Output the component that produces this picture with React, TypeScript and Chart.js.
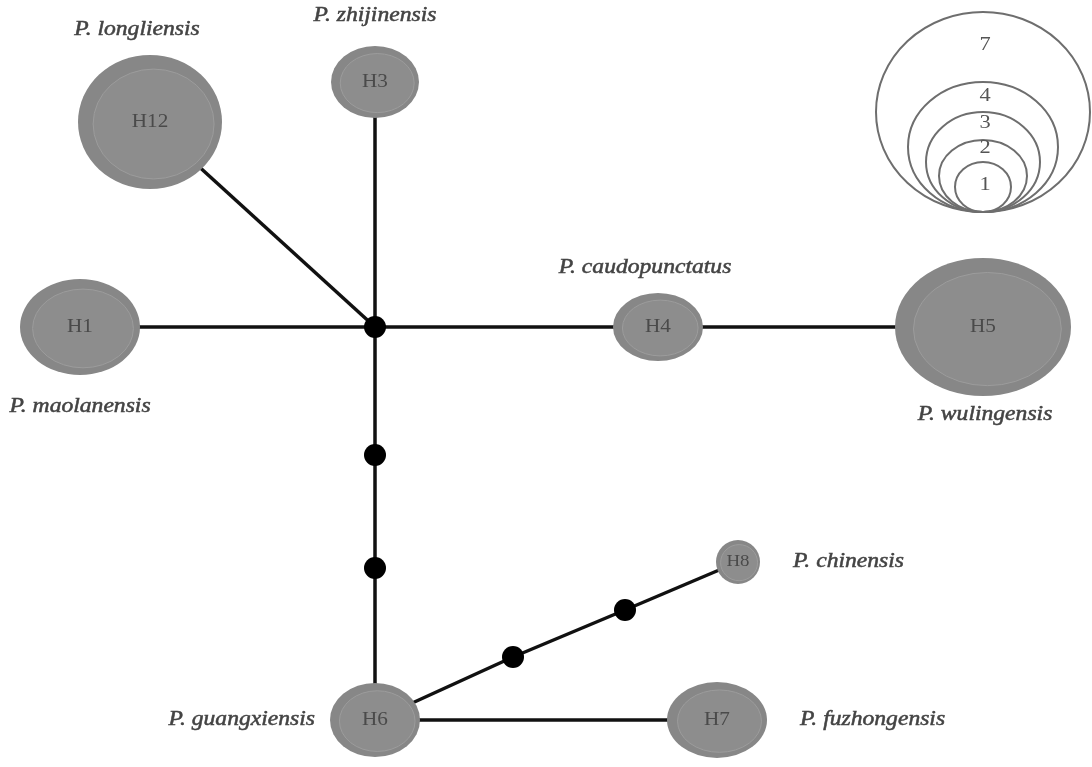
import React, { useEffect, useRef } from "react";
import { Chart, registerables } from "chart.js";

Chart.register(...registerables);

// Haplotype nodes
const nodeNames = ["H1", "H3", "H4", "H5", "H6", "H7", "H8", "H12"];
const nodeX = [80, 375, 658, 983, 375, 717, 738, 150];
const nodeY = [327, 82, 327, 327, 720, 720, 562, 122];
const nodeRX = [60, 44, 45, 88, 45, 50, 22, 72];
const nodeRY = [48, 36, 34, 69, 37, 38, 22, 67];

// Median vectors / mutation steps
const junctionX = [375, 375, 375, 513, 625];
const junctionY = [327, 455, 568, 657, 610];

// Edges between points (node names or junction ids J0..J4)
const edgeFrom = ["H12", "H3", "H1", "J0", "H4", "J0", "J1", "J2", "H6", "J3", "J4", "H6"];
const edgeTo = ["J0", "J0", "J0", "H4", "H5", "J1", "J2", "H6", "J3", "J4", "H8", "H7"];

// Species labels
const speciesNames = [
  "P. longliensis",
  "P. zhijinensis",
  "P. maolanensis",
  "P. caudopunctatus",
  "P. wulingensis",
  "P. chinensis",
  "P. guangxiensis",
  "P. fuzhongensis",
];
const speciesX = [137, 375, 80, 645, 985, 793, 315, 800];
const speciesY = [30, 16, 407, 268, 415, 562, 720, 720];
const speciesAlign = ["center", "center", "center", "center", "center", "left", "right", "left"];

// Size legend
const legendCounts = ["7", "4", "3", "2", "1"];
const legendRX = [107, 75, 57, 44, 28];
const legendRY = [100, 65, 50, 36, 25];
const legendCX = 983;
const legendBottom = 212;
const legendLabelY = [45, 96, 123, 148, 185];

const STRETCH = 1.18;

function pointOf(id: string): { x: number; y: number } {
  if (id.startsWith("J")) {
    const i = parseInt(id.slice(1), 10);
    return { x: junctionX[i], y: junctionY[i] };
  }
  const i = nodeNames.indexOf(id);
  return { x: nodeX[i], y: nodeY[i] };
}

function stretchedText(
  ctx: CanvasRenderingContext2D,
  text: string,
  x: number,
  y: number,
  align: CanvasTextAlign,
  strokeW = 0
) {
  ctx.save();
  ctx.translate(x, y);
  ctx.scale(STRETCH, 1);
  ctx.textAlign = align;
  ctx.fillText(text, 0, 0);
  if (strokeW > 0) {
    ctx.lineWidth = strokeW;
    ctx.strokeStyle = ctx.fillStyle as string;
    ctx.strokeText(text, 0, 0);
  }
  ctx.restore();
}

const networkPlugin = {
  id: "networkPlugin",
  afterDatasetsDraw(chart: any) {
    const ctx = chart.ctx as CanvasRenderingContext2D;
    const xs = chart.scales.x;
    const ys = chart.scales.y;
    const px = (v: number) => xs.getPixelForValue(v);
    const py = (v: number) => ys.getPixelForValue(v);
    const dx = (x: number, r: number) => Math.abs(px(x + r) - px(x));
    const dy = (y: number, r: number) => Math.abs(py(y + r) - py(y));

    ctx.save();
    // nodes
    for (let i = 0; i < nodeNames.length; i++) {
      const cx = px(nodeX[i]);
      const cy = py(nodeY[i]);
      const rx = dx(nodeX[i], nodeRX[i]);
      const ry = dy(nodeY[i], nodeRY[i]);
      ctx.beginPath();
      ctx.ellipse(cx, cy, rx, ry, 0, 0, Math.PI * 2);
      ctx.fillStyle = "#878787";
      ctx.fill();
      ctx.beginPath();
      ctx.ellipse(cx + rx * 0.05, cy + ry * 0.03, rx * 0.84, ry * 0.82, 0, 0, Math.PI * 2);
      ctx.fillStyle = "#8d8d8d";
      ctx.fill();
      ctx.lineWidth = 1;
      ctx.strokeStyle = "#9c9c9c";
      ctx.stroke();
      ctx.fillStyle = "#4a4a4a";
      ctx.font = `${nodeRY[i] < 25 ? 16 : 18}px "Liberation Serif", serif`;
      ctx.textBaseline = "middle";
      stretchedText(ctx, nodeNames[i], cx, cy, "center");
    }

    // species labels
    ctx.font = 'italic 20px "Liberation Serif", serif';
    ctx.fillStyle = "#444444";
    ctx.textBaseline = "middle";
    for (let i = 0; i < speciesNames.length; i++) {
      stretchedText(ctx, speciesNames[i], px(speciesX[i]), py(speciesY[i]), speciesAlign[i] as CanvasTextAlign, 0.5);
    }

    // size legend
    ctx.strokeStyle = "#6e6e6e";
    ctx.lineWidth = 2;
    for (let i = 0; i < legendCounts.length; i++) {
      const cyv = legendBottom - legendRY[i];
      ctx.beginPath();
      ctx.ellipse(px(legendCX), py(cyv), dx(legendCX, legendRX[i]), dy(cyv, legendRY[i]), 0, 0, Math.PI * 2);
      ctx.stroke();
    }
    ctx.font = '19px "Liberation Serif", serif';
    ctx.fillStyle = "#555555";
    ctx.textBaseline = "middle";
    for (let i = 0; i < legendCounts.length; i++) {
      stretchedText(ctx, legendCounts[i], px(legendCX + 2), py(legendLabelY[i]), "center");
    }
    ctx.restore();
  },
};

export default function App() {
  const canvasRef = useRef<HTMLCanvasElement | null>(null);

  useEffect(() => {
    if (!canvasRef.current) return;
    const datasets: any[] = edgeFrom.map((f, i) => {
      const a = pointOf(f);
      const b = pointOf(edgeTo[i]);
      return {
        type: "scatter",
        label: `${f}-${edgeTo[i]}`,
        data: [a, b],
        showLine: true,
        borderColor: "#111111",
        borderWidth: 3.5,
        pointRadius: 0,
        order: 2,
      };
    });
    datasets.push({
      type: "scatter",
      label: "median vectors",
      data: junctionX.map((x, i) => ({ x, y: junctionY[i] })),
      pointRadius: 11,
      pointBackgroundColor: "#000000",
      pointBorderWidth: 0,
      showLine: false,
      order: 1,
    });

    const chart = new Chart(canvasRef.current, {
      type: "scatter",
      data: { datasets },
      options: {
        animation: false,
        responsive: true,
        maintainAspectRatio: false,
        layout: { padding: 0, autoPadding: false },
        plugins: { legend: { display: false }, tooltip: { enabled: false } },
        scales: {
          x: { type: "linear", min: 0, max: 1092, display: false },
          y: { type: "linear", min: 0, max: 767, reverse: true, display: false },
        },
      },
      plugins: [networkPlugin],
    });
    return () => chart.destroy();
  }, []);

  return (
    <div style={{ position: "absolute", left: 0, top: 0, width: 1092, height: 767, background: "#ffffff" }}>
      <canvas ref={canvasRef} />
    </div>
  );
}
